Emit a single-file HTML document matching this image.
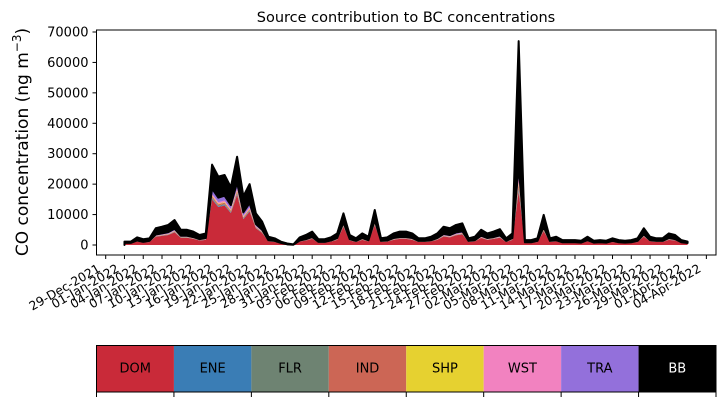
<!DOCTYPE html>
<html><head><meta charset="utf-8"><style>
body{margin:0;background:#fff;}
svg{display:block;font-family:"DejaVu Sans","Liberation Sans",sans-serif;}
</style></head><body>
<svg id="c" width="725" height="402" xmlns="http://www.w3.org/2000/svg"></svg>
<script>
const dateLabels=["29-Dec-2021","01-Jan-2022","04-Jan-2022","07-Jan-2022","10-Jan-2022","13-Jan-2022","16-Jan-2022","19-Jan-2022","22-Jan-2022","25-Jan-2022","28-Jan-2022","31-Jan-2022","03-Feb-2022","06-Feb-2022","09-Feb-2022","12-Feb-2022","15-Feb-2022","18-Feb-2022","21-Feb-2022","24-Feb-2022","27-Feb-2022","02-Mar-2022","05-Mar-2022","08-Mar-2022","11-Mar-2022","14-Mar-2022","17-Mar-2022","20-Mar-2022","23-Mar-2022","26-Mar-2022","29-Mar-2022","01-Apr-2022","04-Apr-2022"];
const yTicks=[0,10000,20000,30000,40000,50000,60000,70000];
const sources=["DOM","ENE","FLR","IND","SHP","WST","TRA","BB"];
// daily totals (x100 ng m-3), day 0 = 01-Jan-2022
const total=[11,11,25,19,22,55,60,66,82,50, 50,44,33,38,264,225,230,190,290,160, 200,104,77,27,22,11,5,2,25,33, 44,19,19,25,38,104,33,22,38,27, 115,22,25,38,44,44,38,22,22,27, 38,60,55,66,71,22,27,50,38,44, 52,22,38,670,16,16,22,99,22,27, 16,16,16,14,27,14,16,14,22,16, 14,16,22,55,27,22,22,38,33,16, 11];
const dom=[5,5,11,8,10,27,30,33,42,24, 24,20,15,17,150,125,130,105,165,85, 110,55,40,12,10,5,2,1,11,15, 20,8,8,11,17,60,15,10,17,12, 65,10,11,17,20,20,17,10,10,12, 17,28,25,32,35,10,12,23,17,20, 24,10,17,175,7,7,10,45,10,12, 7,7,7,6,12,6,7,6,10,7, 6,7,10,27,12,10,10,17,15,7, 5];
const tra=[1,1,2,1,2,4,4,5,6,3, 3,3,2,3,18,15,16,13,20,11, 14,7,5,2,2,1,0,0,2,2, 3,1,1,2,3,7,2,2,3,2, 8,2,2,3,3,3,3,2,2,2, 3,4,4,5,5,2,2,4,3,3, 4,2,3,40,1,1,2,7,2,2, 1,1,1,1,2,1,1,1,2,1, 1,1,2,4,2,2,2,3,2,1, 1];
const ind=[0.3,0.3,0.5,0.4,0.5,1,1.2,1.3,1.6,1, 1,0.9,0.7,0.8,5,4.5,4.6,3.8,5.8,3.2, 4,2,1.5,0.5,0.4,0.2,0.1,0,0.5,0.7, 0.9,0.4,0.4,0.5,0.8,2,0.7,0.4,0.8,0.5, 2.3,0.4,0.5,0.8,0.9,0.9,0.8,0.4,0.4,0.5, 0.8,1.2,1.1,1.3,1.4,0.4,0.5,1,0.8,0.9, 1,0.4,0.8,13,0.3,0.3,0.4,2,0.4,0.5, 0.3,0.3,0.3,0.3,0.5,0.3,0.3,0.3,0.4,0.3, 0.3,0.3,0.4,1.1,0.5,0.4,0.4,0.8,0.7,0.3, 0.2];
const wst=[0.3,0.3,0.5,0.4,0.5,1,1.2,1.3,1.6,1, 1,0.9,0.7,0.8,5,4.5,4.6,3.8,5.8,3.2, 4,2,1.5,0.5,0.4,0.2,0.1,0,0.5,0.7, 0.9,0.4,0.4,0.5,0.8,2,0.7,0.4,0.8,0.5, 2.3,0.4,0.5,0.8,0.9,0.9,0.8,0.4,0.4,0.5, 0.8,1.2,1.1,1.3,1.4,0.4,0.5,1,0.8,0.9, 1,0.4,0.8,13,0.3,0.3,0.4,2,0.4,0.5, 0.3,0.3,0.3,0.3,0.5,0.3,0.3,0.3,0.4,0.3, 0.3,0.3,0.4,1.1,0.5,0.4,0.4,0.8,0.7,0.3, 0.2];
const minor=[0.1,0.1,0.2,0.2,0.2,0.5,0.6,0.6,0.8,0.5, 0.5,0.4,0.3,0.4,2.5,2.2,2.3,1.9,2.9,1.6, 2,1,0.7,0.2,0.2,0.1,0,0,0.2,0.3, 0.4,0.2,0.2,0.2,0.4,1,0.3,0.2,0.4,0.2, 1.1,0.2,0.2,0.4,0.4,0.4,0.4,0.2,0.2,0.2, 0.4,0.6,0.5,0.6,0.7,0.2,0.2,0.5,0.4,0.4, 0.5,0.2,0.4,6,0.1,0.1,0.2,1,0.2,0.2, 0.1,0.1,0.1,0.1,0.2,0.1,0.1,0.1,0.2,0.1, 0.1,0.1,0.2,0.5,0.2,0.2,0.2,0.4,0.3,0.1, 0.1];
const ene=minor, flr=minor, shp=minor;
const colors=["#c92a39","#3a7db5","#6e8372","#cc6655","#e6d130","#f282c0","#9370db","#000000"];

const svg=document.getElementById('c');
const NS="http://www.w3.org/2000/svg";
function mk(tag,attrs,parent){const e=document.createElementNS(NS,tag);for(const k in attrs)e.setAttribute(k,attrs[k]);(parent||svg).appendChild(e);return e;}
const L=96.5,R=716,T=30,B=255;
const y0=245,yPer=213/70000;
function ys(v){return y0-v*yPer;}
const x0=105.7,dx=6.257; // px per day, day 0 = 29-Dec-2021
function xs(d){return x0+dx*d;}

const layers=[dom,ene,flr,ind,shp,wst,tra];
const n=total.length;
let base=new Array(n).fill(0);
for(let s=0;s<8;s++){
  const top=[];
  for(let i=0;i<n;i++){
    const v = s<7 ? layers[s][i]*100 : total[i]*100;
    top.push(s<7 ? base[i]+v : Math.max(base[i],v));
  }
  let d="M"+xs(3).toFixed(2)+","+ys(0).toFixed(2);
  for(let i=0;i<n;i++)d+="L"+xs(i+3).toFixed(2)+","+ys(top[i]).toFixed(2);
  for(let i=n-1;i>=0;i--)d+="L"+xs(i+3).toFixed(2)+","+ys(base[i]).toFixed(2);
  d+="Z";
  const p=mk('path',{d:d,fill:colors[s],stroke:s==7?"#000":"none","stroke-width":s==7?2:0,"stroke-linejoin":"round"});
  
  
  base=top;
}

const fr=mk('rect',{x:L,y:T,width:R-L,height:B-T,fill:"none",stroke:"#000","stroke-width":1});



yTicks.forEach(v=>{
  const y=ys(v);
  mk('line',{x1:L-4,x2:L,y1:y,y2:y,stroke:"#000"});
  const t=mk('text',{x:L-8,y:y+4.5,"text-anchor":"end","font-size":13});
  t.textContent=v;
  
  
});
dateLabels.forEach((lab,i)=>{
  const x=xs(i*3);
  mk('line',{x1:x,x2:x,y1:B,y2:B+4,stroke:"#000"});
  const t=mk('text',{x:0,y:0,"text-anchor":"end","font-size":12.3,transform:`translate(${x-4.5},${B+16}) rotate(-30)`});
  t.textContent=lab;
  
  
});

const ti=mk('text',{x:406,y:22,"text-anchor":"middle","font-size":14.5});
ti.textContent="Source contribution to BC concentrations";


const yl=mk('text',{x:0,y:0,"text-anchor":"middle","font-size":17,transform:"translate(28,142) rotate(-90)"});
yl.innerHTML='CO concentration (ng m<tspan dy="-7" font-size="12">−3</tspan><tspan dy="7">)</tspan>';



const cw=(R-L)/8;
sources.forEach((s,i)=>{
  const x=L+i*cw;
  const r=mk('rect',{x:x,y:345.5,width:cw,height:46.5,fill:colors[i]});
  
  
  const t=mk('text',{x:x+cw/2,y:372.5,"text-anchor":"middle","font-size":13,fill:s=="BB"?"#fff":"#000"});
  t.textContent=s;
  
  
});
for(let i=0;i<=8;i++){const x=L+i*cw;mk('line',{x1:x,x2:x,y1:392,y2:397,stroke:"#000"});}
const lf=mk('rect',{x:L,y:345.5,width:R-L,height:46.5,fill:"none",stroke:"#000"});


</script>
</body></html>
